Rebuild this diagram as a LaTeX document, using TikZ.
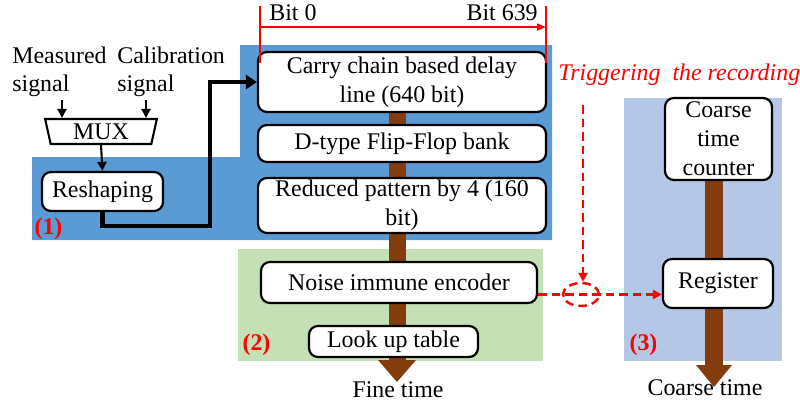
\documentclass[tikz,border=0pt]{standalone}
\usepackage{fontspec}
\setmainfont{Liberation Serif}
\usetikzlibrary{arrows.meta,shapes.geometric,calc}
\newdimen\pxu \pxu=0.2mm
\pgfdeclarelayer{bg}\pgfdeclarelayer{mid}\pgfsetlayers{bg,mid,main}
\definecolor{regA}{RGB}{91,155,213}
\definecolor{regB}{RGB}{197,224,180}
\definecolor{regC}{RGB}{180,199,231}
\definecolor{brownc}{RGB}{132,60,12}
\definecolor{redc}{RGB}{255,0,0}
\tikzset{
  box/.style={draw, fill=white, rounded corners=1.8mm, line width=1.25pt, align=center, inner sep=0pt},
  txt/.style={inner sep=0pt, anchor=base west},
  lab/.style={inner sep=0pt, text=redc, font=\fontsize{13.6}{16.4}\selectfont\bfseries},
  sarrow/.style={line width=1.2pt, -{Triangle[length=1.8mm,width=1.8mm]}},
  tarrow/.style={line width=2.4pt, -{Triangle[length=2.2mm,width=2.8mm]}},
  redline/.style={draw=redc, line width=1.1pt},
  reddash/.style={draw=redc, line width=1.4pt, dash pattern=on 1.7mm off 1mm},
}
\begin{document}
\begin{tikzpicture}[x=0.2mm,y=-0.2mm, font=\fontsize{13.6}{16.4}\selectfont]
\useasboundingbox (0,0) rectangle (800,406);
% regions
\begin{pgfonlayer}{bg}
\fill[regA] (32,157) -- (240,157) -- (240,45) -- (552,45) -- (552,240) -- (32,240) -- cycle;
\fill[regB] (238,249) rectangle (543,361);
\fill[regC] (624,98) rectangle (782,361);
\end{pgfonlayer}
% boxes
\node[box, minimum width=288\pxu, minimum height=60\pxu] (carry) at (402,82) {Carry chain based delay\\line (640 bit)};
\node[box, minimum width=288\pxu, minimum height=37\pxu] (dff) at (402,143.5) {D-type Flip-Flop bank};
\node[box, minimum width=288\pxu, minimum height=55\pxu] (reduced) at (402,205.5) {Reduced pattern by 4 (160\\bit)};
\node[box, minimum width=276\pxu, minimum height=41\pxu] (noise) at (399,282.5) {Noise immune encoder};
\node[box, minimum width=169\pxu, minimum height=31\pxu] (lut) at (393.5,341.5) {Look up table};
\node[box, minimum width=121\pxu, minimum height=39\pxu] (reshape) at (102.5,191.5) {Reshaping};
\node[box, minimum width=107\pxu, minimum height=82\pxu] (coarse) at (718.5,139) {Coarse\\time\\counter};
\node[box, minimum width=110\pxu, minimum height=49\pxu] (register) at (718,283.5) {Register};
\node[draw, fill=white, line width=1.2pt, trapezium, shape border rotate=180, trapezium stretches=true, trapezium angle=79, minimum width=112\pxu, minimum height=25\pxu, inner sep=0pt] (mux) at (101,131.5) {MUX};
% outside texts
\node[txt] (meas1) at (12,64) {Measured};
\node[txt] (meas2) at (12,92) {signal};
\node[txt] (cal1) at (117,64) {Calibration};
\node[txt] (cal2) at (117,92) {signal};
\node[txt] (bit0) at (269,20) {Bit 0};
\node[txt, anchor=base east] (bit639) at (538,20) {Bit 639};
\node[txt, text=redc, font=\fontsize{13.6}{16.4}\selectfont\itshape] (trigtext) at (558,80) {Triggering\ \ the recording};
\node[txt, anchor=base] (finetxt) at (398,397) {Fine time};
\node[txt, anchor=base] (coarsetxt) at (705,395) {Coarse time};
\node[lab] (l1) at (48.5,229) {(1)};
\node[lab] (l2) at (256.5,345) {(2)};
\node[lab] (l3) at (643.5,345) {(3)};
% brown bars
\coordinate (fineend) at (397,382);
\coordinate (coarseend) at (714,387);
\begin{pgfonlayer}{mid}
\fill[brownc] ($(carry.south -| fineend)+(-8.5,0)$) rectangle ($(fineend)+(8.5,-22)$);
\fill[brownc] ($(fineend)+(-19,-22)$) -- ($(fineend)+(19,-22)$) -- (fineend) -- cycle;
\fill[brownc] ($(coarse.south -| coarseend)+(-9,0)$) rectangle ($(coarseend)+(9,-22)$);
\fill[brownc] ($(coarseend)+(-18,-22)$) -- ($(coarseend)+(18,-22)$) -- (coarseend) -- cycle;
\end{pgfonlayer}
% black arrows
\coordinate (ma) at (62,100);
\coordinate (ca) at (146,100);
\draw[sarrow] (ma) -- (ma |- mux.north);
\draw[sarrow] (ca) -- (ca |- mux.north);
\draw[sarrow] (mux.south) -- (reshape.north);
\coordinate (t1) at (210,226);
\draw[tarrow] (reshape.south) |- (t1) |- (carry.west);
% red bit markers
\coordinate (b0t) at (260,6);
\coordinate (b0b) at (260,63);
\coordinate (b1t) at (546,6);
\coordinate (b1b) at (546,63);
\draw[redline] (b0t) -- (b0b);
\draw[redline] (b1t) -- (b1b);
\draw[redline, -{Triangle[length=1.8mm,width=1.4mm]}] ($(b0t)!0.37!(b0b)$) -- ($(b1t)!0.37!(b1b)$);
% trigger
\node[reddash, ellipse, minimum width=36\pxu, minimum height=23\pxu, inner sep=0pt] (trig) at (581,294.5) {};
\coordinate (tv) at (583,105);
\draw[reddash, -{Triangle[length=1.8mm,width=1.8mm]}] (tv) -- (tv |- trig.north);
\draw[reddash, -{Triangle[length=1.8mm,width=1.8mm]}] (noise.east |- trig) -- (register.west |- trig);
\end{tikzpicture}
\end{document}
